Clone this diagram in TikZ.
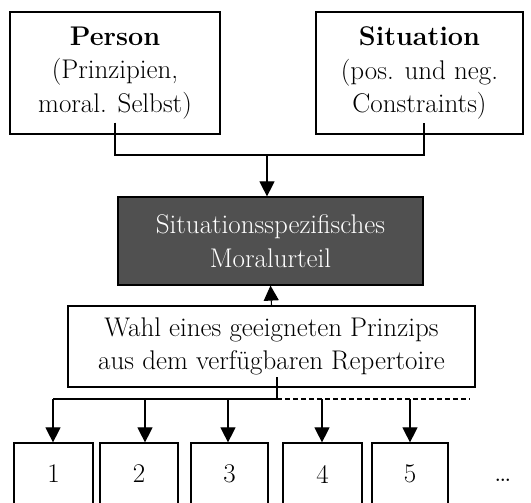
\documentclass[tikz,border=0pt]{standalone}
\usepackage{fontspec}
\usetikzlibrary{arrows.meta}
\definecolor{darkbox}{HTML}{505050}
\begin{document}
\begin{tikzpicture}[x=1pt,y=-1pt,
  box/.style={draw=black,line width=1.2pt,inner sep=0pt,align=center,font=\fontsize{27}{33.5}\selectfont},
  numbox/.style={box,minimum height=62pt},
  conn/.style={line width=1.1pt},
  arr/.style={line width=1.1pt,-{Triangle[width=15pt,length=15pt]}}]
\clip (0,0) rectangle (531,503);
\useasboundingbox (0,0) rectangle (531,503);
\node[box,minimum width=210pt,minimum height=122pt] (P) at (115,73)
  {\textbf{Person}\\(Prinzipien,\\moral. Selbst)};
\node[box,minimum width=207pt,minimum height=122pt] (S) at (419.5,73)
  {\textbf{Situation}\\(pos. und neg.\\Constraints)};
\node[box,fill=darkbox,text=white,minimum width=305pt,minimum height=88pt] (D) at (270.5,241)
  {Situationsspezifisches\\Moralurteil};
\node[box,minimum width=407pt,minimum height=81pt] (W) at (271.5,346.5)
  {Wahl eines geeigneten Prinzips\\aus dem verfügbaren Repertoire};
\node[numbox,minimum width=79pt] (n1) at (53.5,474) {1};
\node[numbox,minimum width=78pt] (n2) at (139,474) {2};
\node[numbox,minimum width=77pt] (n3) at (229.5,474) {3};
\node[numbox,minimum width=79pt] (n4) at (322.5,474) {4};
\node[numbox,minimum width=76pt] (n5) at (410,474) {5};
\node[font=\fontsize{30}{33}\selectfont,inner sep=0pt] (dots) at (503,480) {\dots};
% top connectors
\coordinate (J) at (267,155);
\coordinate (Ps) at ([yshift=12pt]P.south);
\coordinate (Ss) at ([yshift=12pt,xshift=4.5pt]S.south);
\draw[conn] (Ps) |- (J) -| (Ss);
\draw[arr] (J) -- (J |- D.north);
\draw[arr] (W.north) -- (D.south);
% bottom connectors
\coordinate (Wb) at (277,377);
\coordinate (K) at (277,399);
\coordinate (L) at (53,399);
\coordinate (R) at (470,399);
\coordinate (T2) at (145,399);
\coordinate (T3) at (228,399);
\coordinate (T4) at (322,399);
\coordinate (T5) at (410,399);
\draw[conn] (Wb) -- (K) -- (L);
\draw[conn,dashed,dash pattern=on 5pt off 3pt] (K) -- (R);
\draw[arr] (L) -- (L |- n1.north);
\draw[arr] (T2) -- (T2 |- n2.north);
\draw[arr] (T3) -- (T3 |- n3.north);
\draw[arr] (T4) -- (T4 |- n4.north);
\draw[arr] (T5) -- (T5 |- n5.north);
\end{tikzpicture}
\end{document}
